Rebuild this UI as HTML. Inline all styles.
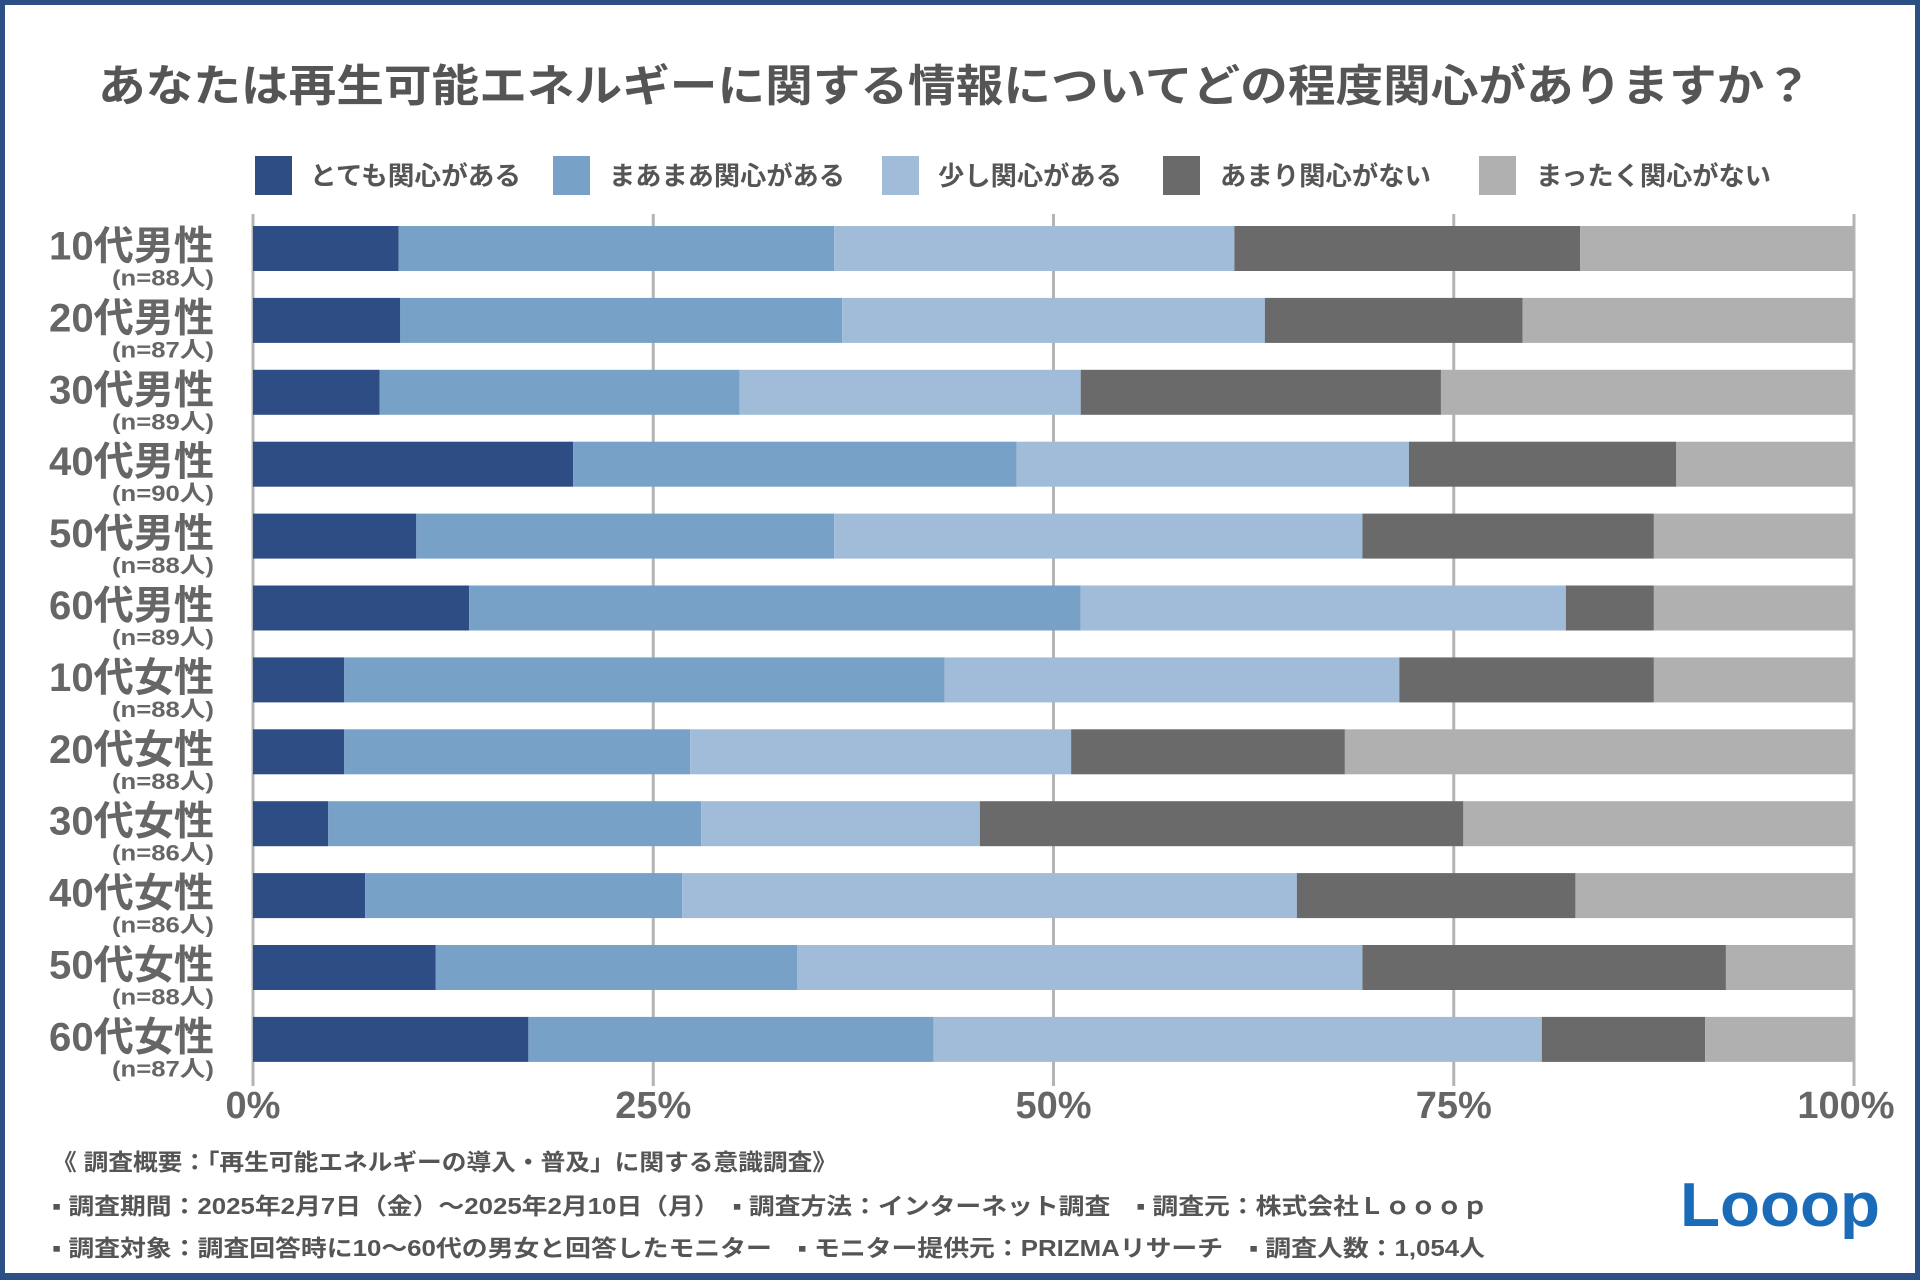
<!DOCTYPE html>
<html><head><meta charset="utf-8">
<style>
html,body{margin:0;padding:0;background:#fff;}
body{width:1920px;height:1280px;position:relative;overflow:hidden;font-family:"Liberation Sans","Noto Sans CJK JP",sans-serif;}
.frame{position:absolute;left:0;top:0;width:1920px;height:1280px;box-sizing:border-box;border:solid #2c4f86;border-width:5px 5px 7px 5px;}
svg{position:absolute;left:0;top:0;}
</style></head>
<body>
<div class="frame"></div>
<svg id="chart" width="1920" height="1280" font-family="'Liberation Sans','Noto Sans CJK JP',sans-serif">
<text x="98" y="101" font-size="44" font-weight="bold" fill="#555" textLength="1714" lengthAdjust="spacingAndGlyphs">あなたは再生可能エネルギーに関する情報についてどの程度関心がありますか？</text>
<g id="legend"></g>
<g id="grid"></g>
<g id="bars"></g>
<g id="ylabels"></g>
<g id="xlabels"></g>
<g font-size="23" font-weight="bold" fill="#555">
<text x="52" y="1170" textLength="785" lengthAdjust="spacingAndGlyphs">《 調査概要：「再生可能エネルギーの導入・普及」に関する意識調査》</text>
<text x="52" y="1214" textLength="1436" lengthAdjust="spacingAndGlyphs">▪ 調査期間：2025年2月7日（金）～2025年2月10日（月）　▪ 調査方法：インターネット調査　▪ 調査元：株式会社Ｌｏｏｏｐ</text>
<text x="52" y="1256" textLength="1433" lengthAdjust="spacingAndGlyphs">▪ 調査対象：調査回答時に10～60代の男女と回答したモニター　▪ モニター提供元：PRIZMAリサーチ　▪ 調査人数：1,054人</text>
</g>
<text x="1680" y="1226" font-size="62" font-weight="bold" fill="#1a6bb8" textLength="200" lengthAdjust="spacingAndGlyphs">Looop</text>
</svg>
<script>
const categories=["10代男性","20代男性","30代男性","40代男性","50代男性","60代男性","10代女性","20代女性","30代女性","40代女性","50代女性","60代女性"];
const sampleSizes=["(n=88人)","(n=87人)","(n=89人)","(n=90人)","(n=88人)","(n=89人)","(n=88人)","(n=88人)","(n=86人)","(n=86人)","(n=88人)","(n=87人)"];
const seriesNames=["とても関心がある","まあまあ関心がある","少し関心がある","あまり関心がない","まったく関心がない"];
const veryInterested=[9.1,9.2,7.9,20.0,10.2,13.5,5.7,5.7,4.7,7.0,11.4,17.2];
const somewhatInterested=[27.2,27.6,22.5,27.7,26.1,38.2,37.5,21.6,23.3,19.8,22.6,25.3];
const slightlyInterested=[25.0,26.4,21.3,24.5,33.0,30.3,28.4,23.8,17.4,38.4,35.3,38.0];
const notVery=[21.6,16.1,22.5,16.7,18.2,5.5,15.9,17.1,30.2,17.4,22.7,10.2];
const notAtAll=[17.1,20.7,25.8,11.1,12.5,12.5,12.5,31.8,24.4,17.4,8.0,9.3];
const xTicks=[0,25,50,75,100];
const xTickLabels=["0%","25%","50%","75%","100%"];
const series=[veryInterested,somewhatInterested,slightlyInterested,notVery,notAtAll];
const colors=["#2e4d84","#77a1c6","#a0bcd8","#6a6a6a","#b0b0b0"];
const NS="http://www.w3.org/2000/svg";
const X0=253,X1=1854,ROW0=248.5,ROWSTEP=71.9,BARH=45;
const xs=v=>X0+(X1-X0)*v/100;
const yc=i=>ROW0+ROWSTEP*i;
function mk(tag,attrs,parent){const e=document.createElementNS(NS,tag);for(const k in attrs)e.setAttribute(k,attrs[k]);parent.appendChild(e);return e;}
const grid=document.getElementById('grid');
xTicks.forEach((t,i)=>{
 const l=mk('line',{x1:xs(t),x2:xs(t),y1:214,y2:1086,stroke:'#b4b4b4','stroke-width':3},grid);
 
 
 const tx=mk('text',{x:xs(t)+(i==xTicks.length-1?-8:0),y:1118,'text-anchor':'middle','font-size':38,'font-weight':'bold',fill:'#666'},document.getElementById('xlabels'));
 tx.textContent=xTickLabels[i];
 
 
});
const bars=document.getElementById('bars'),yl=document.getElementById('ylabels');
categories.forEach((c,i)=>{
 let acc=0;
 series.forEach((s,k)=>{
  const r=mk('rect',{x:xs(acc),y:yc(i)-BARH/2,width:xs(acc+s[i])-xs(acc),height:BARH,fill:colors[k]},bars);
  
  
  acc+=s[i];
 });
 const t=mk('text',{x:214,y:yc(i)+11,'text-anchor':'end','font-size':40,'font-weight':'bold',fill:'#666',textLength:165,lengthAdjust:'spacingAndGlyphs'},yl);
 t.textContent=c;
 
 
 const n=mk('text',{x:214,y:yc(i)+37,'text-anchor':'end','font-size':22,'font-weight':'bold',fill:'#666',textLength:102,lengthAdjust:'spacingAndGlyphs'},yl);
 n.textContent=sampleSizes[i];
 
 
});
const lg=document.getElementById('legend');
const legSq=[255,553,882,1163,1479],legTx=[310,609,938,1220,1536],legW=[211,236,184,211,235];
seriesNames.forEach((nm,k)=>{
 const r=mk('rect',{x:legSq[k],y:156,width:37,height:39,fill:colors[k]},lg);
 
 
 const t=mk('text',{x:legTx[k],y:185,'font-size':26,'font-weight':'bold',fill:'#555',textLength:legW[k],lengthAdjust:'spacingAndGlyphs'},lg);
 t.textContent=nm;
 
 
});
</script>
</body></html>
